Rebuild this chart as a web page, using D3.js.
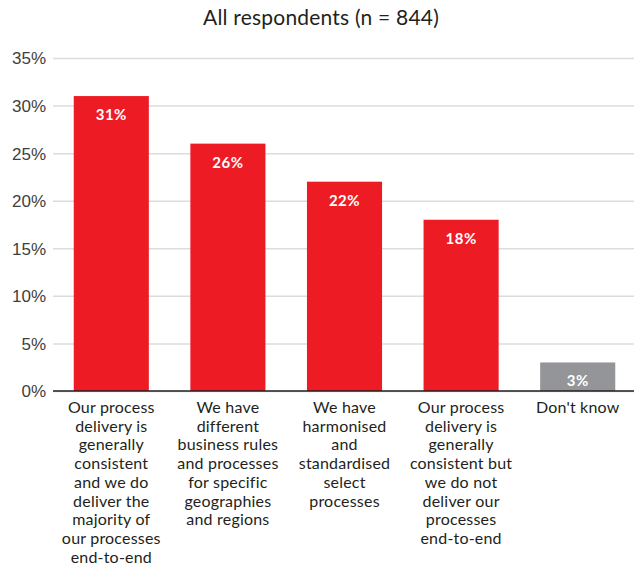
<!DOCTYPE html>
<html>
<head>
<meta charset="utf-8">
<script src="https://cdn.jsdelivr.net/npm/d3@7"></script>
<style>
  html, body { margin: 0; padding: 0; background: #fff; }
  svg { display: block; font-family: Lato, "Noto Sans", sans-serif; }
</style>
</head>
<body>
<svg id="chart" width="634" height="570"></svg>
<script>
// Survey answers, one label line per array entry
const categories = [
  ["Our process", "delivery is", "generally", "consistent", "and we do", "deliver the", "majority of", "our processes", "end-to-end"],
  ["We have", "different", "business rules", "and processes", "for specific", "geographies", "and regions"],
  ["We have", "harmonised", "and", "standardised", "select", "processes"],
  ["Our process", "delivery is", "generally", "consistent but", "we do not", "deliver our", "processes", "end-to-end"],
  ["Don't know"]
];
const values = [31, 26, 22, 18, 3];
const barColors = ["#ED1C24", "#ED1C24", "#ED1C24", "#ED1C24", "#939598"];
const yTicks = [0, 5, 10, 15, 20, 25, 30, 35];
const title = "All respondents (n = 844)";

const svg = d3.select("#chart");
const W = 634, H = 570;
const margin = { top: 58, right: 0, bottom: 179, left: 53 };

const x = d3.scaleBand()
  .domain(d3.range(values.length))
  .range([margin.left, W - margin.right + 2])
  .paddingInner(0.356)
  .paddingOuter(0.178);

const y = d3.scaleLinear()
  .domain([0, 35])
  .range([H - margin.bottom, margin.top]);

// Title
svg.append("text")
  .attr("x", 321)
  .attr("y", 25)
  .attr("text-anchor", "middle")
  .attr("fill", "#231f20")
  .style("font-size", "21px")
  .style("letter-spacing", "0.2px")
  .text(title);

// Gridlines and y-axis labels
const yAxis = d3.axisLeft(y)
  .tickValues(yTicks)
  .tickSize(-(W - margin.left))
  .tickPadding(7)
  .tickFormat(d => d + "%");

const gy = svg.append("g")
  .attr("transform", `translate(${margin.left},0)`)
  .call(yAxis);
gy.select(".domain").remove();
gy.selectAll(".tick line").attr("stroke", "#dcdcdc").attr("stroke-width", 1.5);
gy.selectAll(".tick text")
  .attr("fill", "#404040")
  .style("font-size", "17px")
  .attr("dy", "0.35em");

// Bars
svg.append("g")
  .selectAll("rect")
  .data(values)
  .join("rect")
  .attr("x", (d, i) => x(i))
  .attr("y", d => y(d))
  .attr("width", x.bandwidth())
  .attr("height", d => y(0) - y(d))
  .attr("fill", (d, i) => barColors[i]);

// Value labels inside bars
svg.append("g")
  .selectAll("text")
  .data(values)
  .join("text")
  .attr("x", (d, i) => x(i) + x.bandwidth() / 2)
  .attr("y", d => y(d) + 24)
  .attr("text-anchor", "middle")
  .attr("fill", "#fff")
  .style("font-size", "15px")
  .style("font-weight", "700")
  .style("letter-spacing", "0.5px")
  .text(d => d + "%");

// Baseline
svg.append("line")
  .attr("x1", margin.left)
  .attr("x2", W)
  .attr("y1", y(0))
  .attr("y2", y(0))
  .attr("stroke", "#231f20")
  .attr("stroke-width", 1.5);

// Category labels
const labels = svg.append("g")
  .selectAll("text")
  .data(categories)
  .join("text")
  .attr("text-anchor", "middle")
  .attr("fill", "#231f20")
  .style("font-size", "16px")
  .style("letter-spacing", "0.2px")
  .attr("transform", (d, i) => `translate(${x(i) + x.bandwidth() / 2},${y(0) + 22})`);

labels.selectAll("tspan")
  .data(d => d)
  .join("tspan")
  .attr("x", 0)
  .attr("y", (d, j) => j * 18.7)
  .text(d => d);
</script>
</body>
</html>
